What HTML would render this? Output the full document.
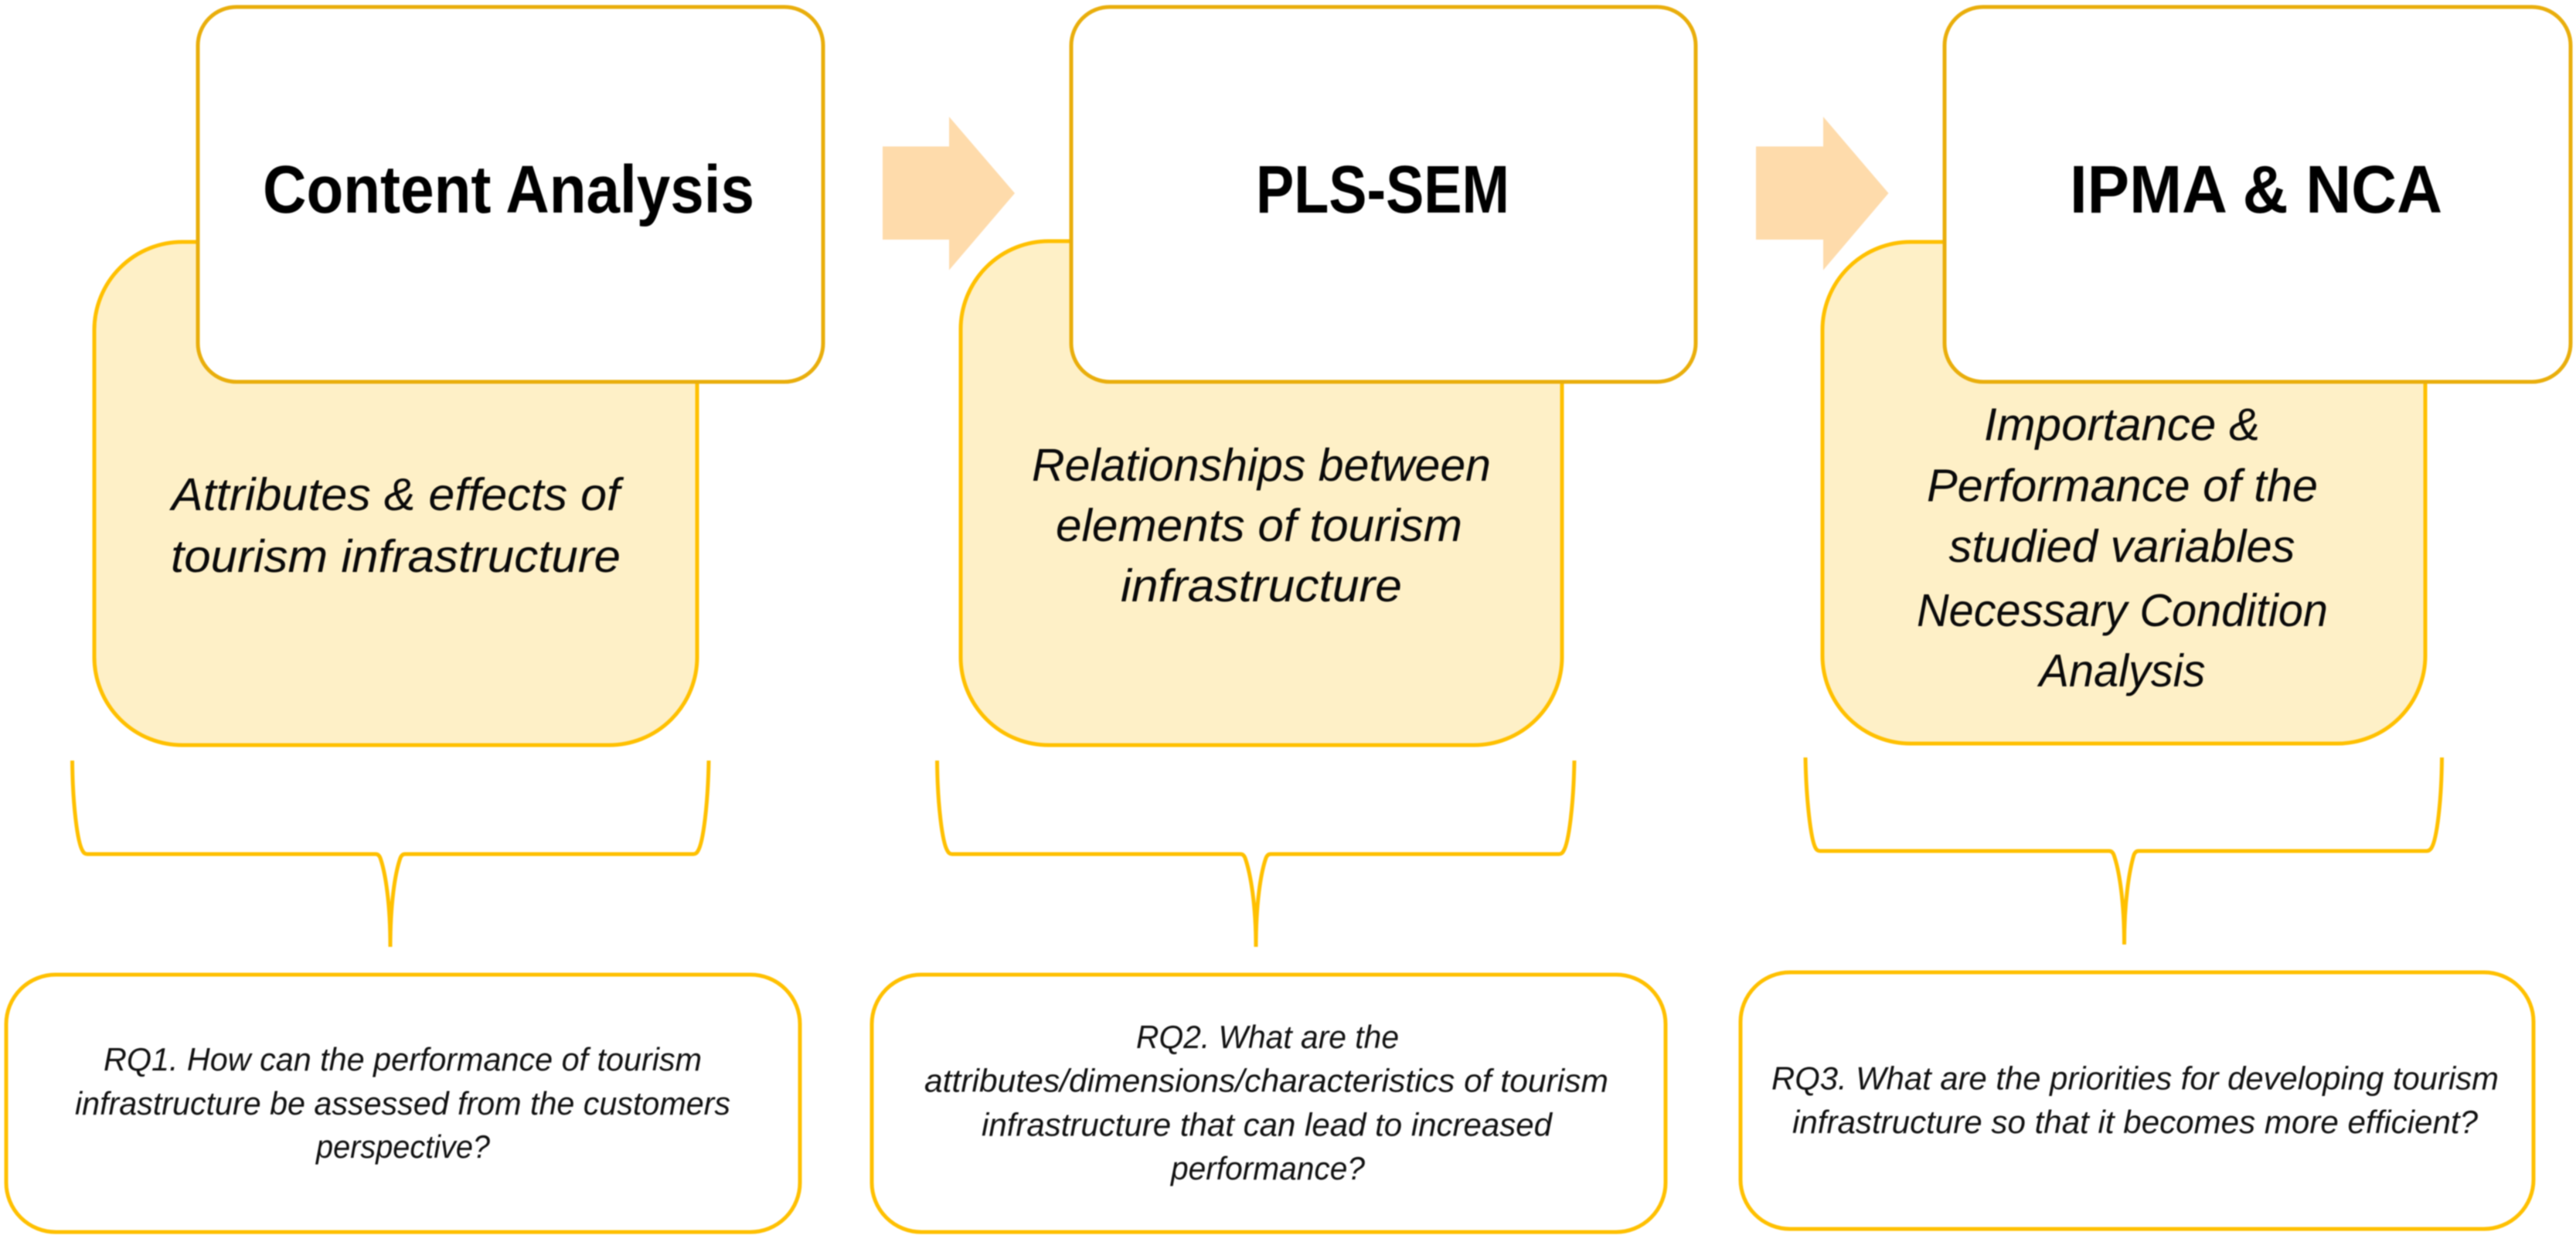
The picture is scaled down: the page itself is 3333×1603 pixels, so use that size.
<!DOCTYPE html>
<html lang="en">
<head>
<meta charset="utf-8">
<title>Research design diagram</title>
<style>
html,body{margin:0;padding:0;background:#fff;width:3333px;height:1603px;overflow:hidden}
svg{display:block;filter:blur(0.7px)}
.t{font-family:"Liberation Sans",sans-serif;font-weight:bold;font-size:87px;fill:#000}
.m{font-family:"Liberation Sans",sans-serif;font-style:italic;font-size:59px;fill:#0a0a0a}
.q{font-family:"Liberation Sans",sans-serif;font-style:italic;font-size:42px;fill:#111}
.y{fill:#FEF0C7;stroke:#FFC000;stroke-width:5}
.w{fill:#fff;stroke:#E9AE0C;stroke-width:5}
.r{fill:#fff;stroke:#FFC000;stroke-width:5}
.b{fill:none;stroke:#FFC000;stroke-width:5}
.a{fill:#FEDBAB}
</style>
</head>
<body>
<svg xmlns="http://www.w3.org/2000/svg" width="3333" height="1603" viewBox="0 0 3333 1603">
<rect width="3333" height="1603" fill="#fff"/>

<!-- arrows -->
<polygon class="a" points="1142,189.5 1228,189.5 1228,151 1313,250 1228,349.5 1228,310 1142,310"/>
<polygon class="a" points="2272,189.5 2359,189.5 2359,151 2443.5,250 2359,349.5 2359,310 2272,310"/>

<!-- column 1 -->
<rect class="y" x="122" y="313" width="780" height="651" rx="114" ry="114"/>
<rect class="w" x="256" y="9" width="809" height="485" rx="50" ry="50"/>
<text class="t" x="340" y="275" textLength="636" lengthAdjust="spacingAndGlyphs">Content Analysis</text>
<text class="m" x="222" y="660" textLength="580" lengthAdjust="spacingAndGlyphs">Attributes &amp; effects of</text>
<text class="m" x="221" y="740" textLength="582" lengthAdjust="spacingAndGlyphs">tourism infrastructure</text>
<path class="b" d="M93.500 984 C94 1040 100 1090 107 1101 Q109 1105 113 1105 L486 1105 Q490 1105 492 1110 C499 1130 505 1170 505 1225 C505 1170 511 1130 518 1110 Q520 1105 524 1105 L897 1105 Q901 1105 903 1101 C910 1090 916 1040 917 984"/>
<rect class="r" x="8" y="1261" width="1027" height="333" rx="64" ry="64"/>
<text class="q" x="134" y="1385" textLength="774" lengthAdjust="spacingAndGlyphs">RQ1. How can the performance of tourism</text>
<text class="q" x="97" y="1442" textLength="848" lengthAdjust="spacingAndGlyphs">infrastructure be assessed from the customers</text>
<text class="q" x="409" y="1498" textLength="225" lengthAdjust="spacingAndGlyphs">perspective?</text>

<!-- column 2 -->
<rect class="y" x="1243" y="312" width="778" height="652" rx="114" ry="114"/>
<rect class="w" x="1386" y="9" width="808" height="485" rx="50" ry="50"/>
<text class="t" x="1625" y="275" textLength="328" lengthAdjust="spacingAndGlyphs">PLS-SEM</text>
<text class="m" x="1335" y="622" textLength="594" lengthAdjust="spacingAndGlyphs">Relationships between</text>
<text class="m" x="1366" y="700" textLength="526" lengthAdjust="spacingAndGlyphs">elements of tourism</text>
<text class="m" x="1450" y="778" textLength="364" lengthAdjust="spacingAndGlyphs">infrastructure</text>
<path class="b" d="M1212.500 984 C1213 1040 1219 1090 1226 1101 Q1228 1105 1232 1105 L1605 1105 Q1609 1105 1611 1110 C1618 1130 1625 1170 1625 1225 C1625 1170 1631 1130 1638 1110 Q1640 1105 1644 1105 L2017 1105 Q2021 1105 2023 1101 C2030 1090 2036 1040 2037 984"/>
<rect class="r" x="1128" y="1261" width="1027" height="333" rx="64" ry="64"/>
<text class="q" x="1470" y="1356" textLength="340" lengthAdjust="spacingAndGlyphs">RQ2. What are the</text>
<text class="q" x="1196" y="1412.500" textLength="885" lengthAdjust="spacingAndGlyphs">attributes/dimensions/characteristics of tourism</text>
<text class="q" x="1270" y="1469.500" textLength="738" lengthAdjust="spacingAndGlyphs">infrastructure that can lead to increased</text>
<text class="q" x="1515" y="1526" textLength="251" lengthAdjust="spacingAndGlyphs">performance?</text>

<!-- column 3 -->
<rect class="y" x="2358" y="313" width="780" height="649" rx="114" ry="114"/>
<rect class="w" x="2516" y="9" width="810" height="485" rx="50" ry="50"/>
<text class="t" x="2678" y="275" textLength="482" lengthAdjust="spacingAndGlyphs">IPMA &amp; NCA</text>
<text class="m" x="2567" y="569.500" textLength="357" lengthAdjust="spacingAndGlyphs">Importance &amp;</text>
<text class="m" x="2493" y="648.500" textLength="506" lengthAdjust="spacingAndGlyphs">Performance of the</text>
<text class="m" x="2521.500" y="727" textLength="448" lengthAdjust="spacingAndGlyphs">studied variables</text>
<text class="m" x="2480" y="810" textLength="532" lengthAdjust="spacingAndGlyphs">Necessary Condition</text>
<text class="m" x="2638.500" y="888" textLength="215" lengthAdjust="spacingAndGlyphs">Analysis</text>
<path class="b" d="M2336 980 C2337 1036 2343 1086 2349 1097 Q2351 1101 2355 1101 L2729 1101 Q2733 1101 2735 1106 C2742 1126 2748.500 1166 2748.500 1222 C2748.500 1166 2755 1126 2761 1106 Q2763 1101 2767 1101 L3139.500 1101 Q3143.500 1101 3146 1097 C3153 1086 3159 1036 3159.500 980"/>
<rect class="r" x="2252" y="1258" width="1026" height="332" rx="64" ry="64"/>
<text class="q" x="2292" y="1409.500" textLength="941" lengthAdjust="spacingAndGlyphs">RQ3. What are the priorities for developing tourism</text>
<text class="q" x="2319" y="1466" textLength="887" lengthAdjust="spacingAndGlyphs">infrastructure so that it becomes more efficient?</text>
</svg>
</body>
</html>
